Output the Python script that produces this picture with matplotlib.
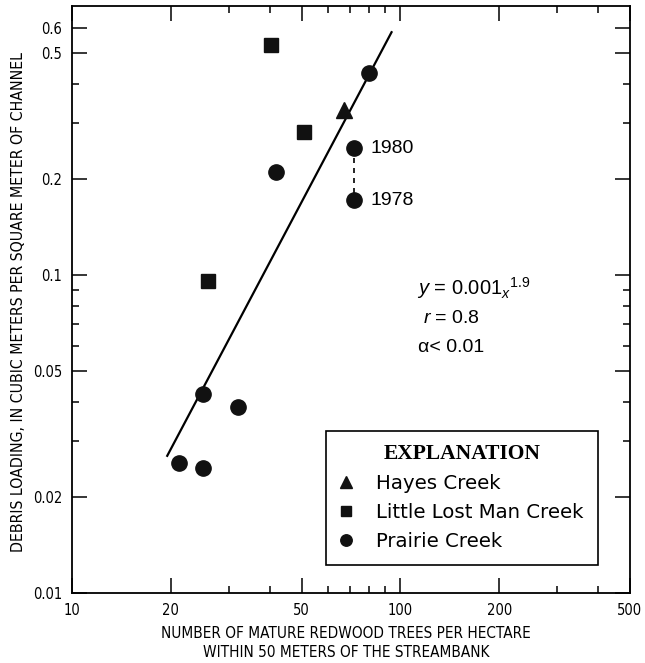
import numpy as np
import matplotlib
matplotlib.use('Agg')
import matplotlib.pyplot as plt
from matplotlib.ticker import FixedLocator, FixedFormatter, NullFormatter

# Hayes Creek
hayes_x = [67.5]
hayes_y = [0.33]
# Little Lost Man Creek
llm_x = [40.3, 50.8, 25.9]
llm_y = [0.53, 0.282, 0.096]
# Prairie Creek
prairie_x = [41.8, 80.4, 72.3, 72.3, 25.0, 32.0, 21.2, 25.0]
prairie_y = [0.211, 0.432, 0.25, 0.172, 0.0422, 0.0385, 0.0256, 0.0247]
# fitted power line y = 0.001x^1.9 (as drawn)
fit_x = [19.5, 94.0]
fit_y = [0.027, 0.58]

xmajor = [10, 20, 50, 100, 200, 500]
xminor = [30, 40, 60, 70, 80, 90, 300, 400]
ymajor = [0.01, 0.02, 0.05, 0.1, 0.2, 0.5, 0.6]
yminor = [0.03, 0.04, 0.06, 0.07, 0.08, 0.09, 0.3, 0.4]

narrow = ['DejaVu Sans']

plt.rcParams['mathtext.fontset'] = 'custom'
plt.rcParams['mathtext.rm'] = 'Liberation Sans'
plt.rcParams['mathtext.it'] = 'Liberation Sans:italic'

fig = plt.figure(figsize=(6.45, 6.63), dpi=100)
ax = fig.add_axes([0.1116, 0.1056, 0.865, 0.885])
ax.set_xscale('log')
ax.set_yscale('log')
ax.set_xlim(10, 500)
ax.set_ylim(0.01, 0.70)

ax.plot(fit_x, fit_y, color='black', lw=1.6, zorder=2)
ax.plot([prairie_x[2], prairie_x[3]], [prairie_y[2], prairie_y[3]],
        color='black', lw=1.2, ls=(0, (3, 3)), zorder=1)

h1, = ax.plot(hayes_x, hayes_y, ls='none', marker='^', ms=11, color='#111111',
              label='Hayes Creek', zorder=3)
h2, = ax.plot(llm_x, llm_y, ls='none', marker='s', ms=9.5, color='#111111',
              label='Little Lost Man Creek', zorder=3)
h3, = ax.plot(prairie_x, prairie_y, ls='none', marker='o', ms=11, color='#111111',
              label='Prairie Creek', zorder=3)

ax.text(81, 0.25, '1980', fontsize=14, family='Liberation Sans', va='center')
ax.text(81, 0.172, '1978', fontsize=14, family='Liberation Sans', va='center')

ax.text(0.618, 0.520, r'$y$ = 0.001$_{x}{}^{1.9}$', transform=ax.transAxes,
        fontsize=14.5, family='Liberation Sans', va='center')
ax.text(0.629, 0.468, r'$r$ = 0.8', transform=ax.transAxes,
        fontsize=14, family='Liberation Sans', va='center')
ax.text(0.620, 0.419, 'α< 0.01', transform=ax.transAxes,
        fontsize=14, family='Liberation Sans', va='center')

# ticks
ax.xaxis.set_major_locator(FixedLocator(xmajor))
ax.xaxis.set_major_formatter(FixedFormatter([str(v) for v in xmajor]))
ax.xaxis.set_minor_locator(FixedLocator(xminor))
ax.xaxis.set_minor_formatter(NullFormatter())
ax.yaxis.set_major_locator(FixedLocator(ymajor))
ax.yaxis.set_major_formatter(FixedFormatter([str(v) for v in ymajor]))
ax.yaxis.set_minor_locator(FixedLocator(yminor))
ax.yaxis.set_minor_formatter(NullFormatter())
ax.tick_params(which='both', direction='in', top=True, right=True, width=1.1)
ax.tick_params(which='major', length=11, pad=7)
ax.tick_params(which='minor', length=5)
for lab in ax.get_xticklabels() + ax.get_yticklabels():
    lab.set_family(narrow)
    lab.set_stretch('condensed')
    lab.set_fontsize(10.5)
for s in ax.spines.values():
    s.set_linewidth(1.3)

ax.set_xlabel('NUMBER OF MATURE REDWOOD TREES PER HECTARE\nWITHIN 50 METERS OF THE STREAMBANK',
              family=narrow, stretch='condensed', fontsize=11, linespacing=1.3)
ax.xaxis.set_label_coords(0.491, -0.057)
ax.set_ylabel('DEBRIS LOADING, IN CUBIC METERS PER SQUARE METER OF CHANNEL',
              family=narrow, stretch='condensed', fontsize=11.3)
ax.yaxis.set_label_coords(-0.083, 0.496)

leg = ax.legend(handles=[h1, h2, h3], loc='lower left',
                bbox_to_anchor=(0.455, 0.048, 0.488, 0.235), mode='expand',
                borderaxespad=0, title='EXPLANATION', fancybox=False,
                edgecolor='black', framealpha=1,
                prop={'family': 'DejaVu Sans', 'size': 14.2},
                handlelength=0.6, handletextpad=1.25, borderpad=0.7,
                labelspacing=0.5, numpoints=1, markerscale=0.75)
leg.get_frame().set_linewidth(1.2)
leg.get_title().set_fontfamily('Liberation Serif')
leg.get_title().set_fontweight('bold')
leg.get_title().set_fontsize(15.5)

fig.savefig('out.png', dpi=100)
